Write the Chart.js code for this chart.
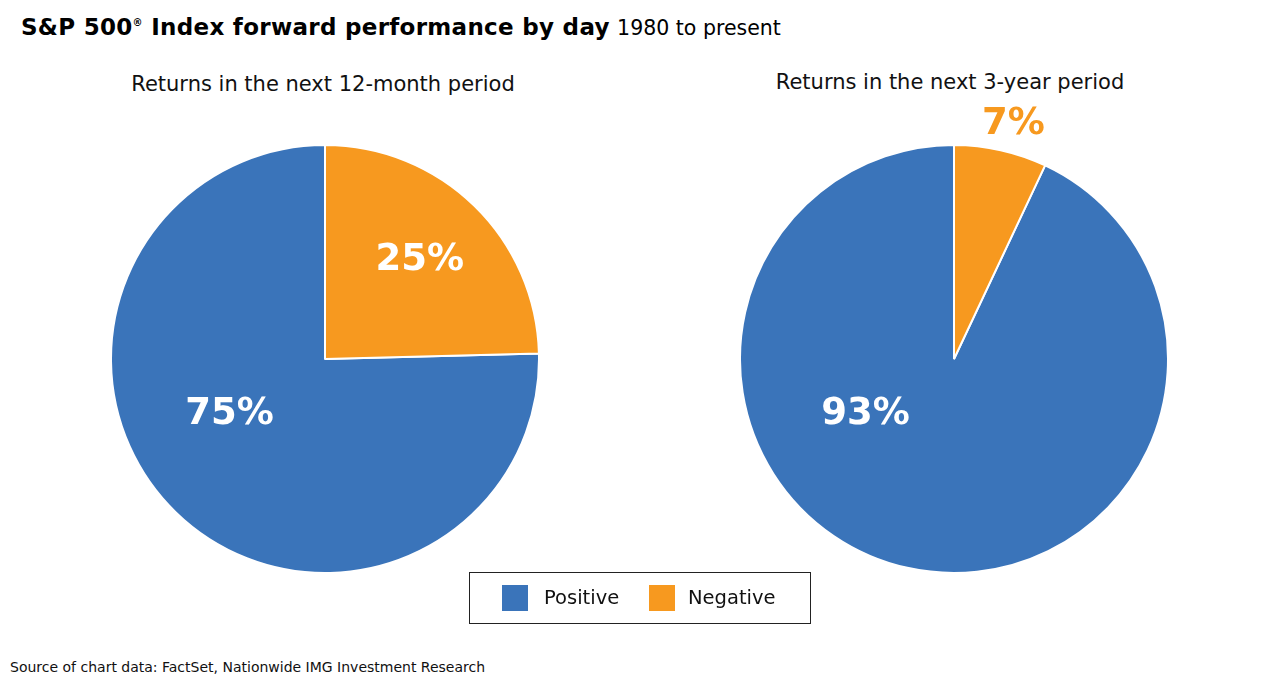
<!DOCTYPE html>
<html>
<head>
<meta charset="utf-8">
<script src="https://cdn.jsdelivr.net/npm/chart.js@4"></script>
<style>
  body { margin:0; width:1280px; height:683px; background:#fff; font-family:"DejaVu Sans", sans-serif; position:relative; overflow:hidden; }
  #titel { position:absolute; left:21px; top:14px; font-size:23px; color:#000; white-space:nowrap; }
  #titel b { font-weight:bold; letter-spacing:0.3px; }
  #titel sup { font-size:10px; }
  #titel span { font-size:20.5px; }
  .pod { position:absolute; font-size:21px; color:#111; text-align:center; width:500px; white-space:nowrap; }
  .pita { position:absolute; }
  #legenda { position:absolute; left:469px; top:572px; width:340px; height:50px; border:1px solid #222; font-size:19.5px; color:#111; }
  #legenda span.kv { position:absolute; top:12px; width:26px; height:26px; }
  #legenda span.tx { position:absolute; top:13px; }
  #izvor { position:absolute; left:10px; top:659px; font-size:14px; color:#111; }
</style>
</head>
<body>
<div id="titel"><b>S&amp;P 500<sup>®</sup> Index forward performance by day</b> <span>1980 to present</span></div>
<div class="pod" style="left:73px; top:72px;">Returns in the next 12-month period</div>
<div class="pod" style="left:700px; top:70px;">Returns in the next 3-year period</div>
<canvas id="prva" class="pita" style="left:110px; top:144px;"></canvas>
<canvas id="druga" class="pita" style="left:739px; top:92px;"></canvas>
<div id="legenda">
  <span class="kv" style="left:32px; background:#3A74BA;"></span><span class="tx" style="left:74px;">Positive</span>
  <span class="kv" style="left:179px; background:#F7991F;"></span><span class="tx" style="left:218px;">Negative</span>
</div>
<div id="izvor">Source of chart data: FactSet, Nationwide IMG Investment Research</div>
<script>
var kategorije = ['Positive', 'Negative'];
var godina1 = [75.4, 24.6];   // 12 meseci
var godina3 = [93, 7];        // 3 godine
var natpisi1 = ['75%', '25%'];
var natpisi3 = ['93%', '7%'];
var boje = ['#3A74BA', '#F7991F'];

// crta procente na pitama
var procentiPlugin = {
  id: 'procenti',
  afterDatasetsDraw: function(chart, args, opts) {
    var ctx = chart.ctx;
    var meta = chart.getDatasetMeta(0);
    ctx.save();
    ctx.font = 'bold 37px "DejaVu Sans", sans-serif';
    ctx.textAlign = 'center';
    ctx.textBaseline = 'middle';
    meta.data.forEach(function(arc, i) {
      var p = opts.pozicije[i];
      var ug = p[0] * Math.PI / 180;
      var x = arc.x + Math.sin(ug) * arc.outerRadius * p[1];
      var y = arc.y - Math.cos(ug) * arc.outerRadius * p[1];
      ctx.fillStyle = p[2];
      ctx.fillText(opts.natpisi[i], x, y);
    });
    ctx.restore();
  }
};

function napraviPitu(id, podaci, natpisi, pozicije, gore) {
  var c = document.getElementById(id);
  c.width = 430;
  c.height = 430 + gore;
  return new Chart(c.getContext('2d'), {
    type: 'pie',
    data: {
      labels: kategorije,
      datasets: [{
        data: podaci,
        backgroundColor: boje,
        borderColor: '#fff',
        borderWidth: 2
      }]
    },
    options: {
      responsive: false,
      animation: false,
      rotation: podaci[1] * 3.6,   // negativni deo pocinje od vrha
      events: [],
      layout: { padding: { top: gore } },
      plugins: {
        legend: { display: false },
        tooltip: { enabled: false },
        procenti: { natpisi: natpisi, pozicije: pozicije }
      }
    },
    plugins: [procentiPlugin]
  });
}

napraviPitu('prva', godina1, natpisi1, [[239.9, 0.515, '#fff'], [43.8, 0.64, '#fff']], 0);
napraviPitu('druga', godina3, natpisi3, [[238, 0.487, '#fff'], [14.2, 1.13, '#F7991F']], 52);
</script>
</body>
</html>
